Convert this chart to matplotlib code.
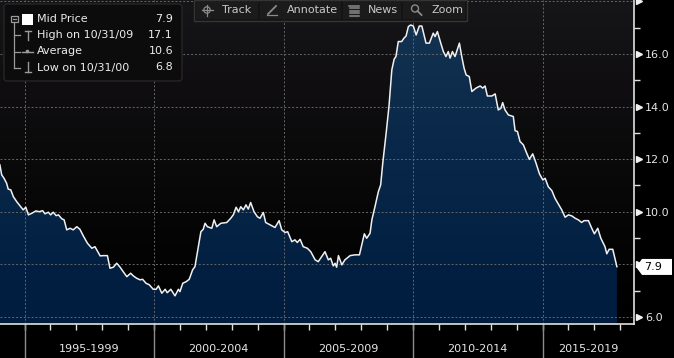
import numpy as np
import matplotlib
matplotlib.use("Agg")
import matplotlib.pyplot as plt
from matplotlib import transforms
from matplotlib.patches import Rectangle, Polygon, Circle, FancyBboxPatch
from matplotlib.colors import LinearSegmentedColormap

# ---------------- data ----------------
years = [
    1994.05, 1994.12, 1994.21, 1994.31, 1994.37, 1994.47, 1994.57, 1994.70, 1994.83, 1994.95,
    1995.05, 1995.15, 1995.28, 1995.44, 1995.57, 1995.70, 1995.79, 1995.92, 1996.01, 1996.11,
    1996.22, 1996.31, 1996.44, 1996.53, 1996.63, 1996.76, 1996.88, 1997.02, 1997.14, 1997.27,
    1997.43, 1997.60, 1997.72, 1997.92, 1998.04, 1998.20, 1998.30, 1998.43, 1998.56, 1998.69,
    1998.81, 1998.95, 1999.10, 1999.20, 1999.33, 1999.46, 1999.56, 1999.69, 1999.82, 1999.97,
    2000.08, 2000.17, 2000.30, 2000.43, 2000.51, 2000.65, 2000.81, 2000.94, 2001.00, 2001.11,
    2001.24, 2001.36, 2001.49, 2001.58, 2001.71, 2001.81, 2001.90, 2001.97, 2002.06, 2002.23,
    2002.32, 2002.42, 2002.58, 2002.81, 2002.96, 2003.06, 2003.17, 2003.26, 2003.35, 2003.45,
    2003.55, 2003.64, 2003.73, 2003.86, 2003.99, 2004.09, 2004.22, 2004.31, 2004.48, 2004.67,
    2004.83, 2004.93, 2005.06, 2005.16, 2005.32, 2005.44, 2005.53, 2005.64, 2005.76, 2005.92,
    2006.05, 2006.22, 2006.34, 2006.47, 2006.60, 2006.73, 2006.82, 2006.92, 2006.99, 2007.05,
    2007.12, 2007.25, 2007.37, 2007.57, 2007.76, 2007.93, 2008.02, 2008.12, 2008.21, 2008.34,
    2008.41, 2008.53, 2008.66, 2008.75, 2008.83, 2008.96, 2009.07, 2009.18, 2009.27, 2009.34,
    2009.43, 2009.56, 2009.65, 2009.73, 2009.82, 2009.91, 2010.01, 2010.12, 2010.24, 2010.34,
    2010.50, 2010.63, 2010.78, 2010.85, 2010.94, 2011.07, 2011.17, 2011.27, 2011.36, 2011.43,
    2011.52, 2011.62, 2011.79, 2011.88, 2011.97, 2012.05, 2012.17, 2012.27, 2012.43, 2012.59,
    2012.69, 2012.78, 2012.87, 2013.04, 2013.17, 2013.29, 2013.39, 2013.46, 2013.55, 2013.68,
    2013.87, 2013.94, 2014.03, 2014.13, 2014.26, 2014.39, 2014.49, 2014.62, 2014.75, 2014.88,
    2015.01, 2015.10, 2015.22, 2015.36, 2015.48, 2015.65, 2015.74, 2015.87, 2016.00, 2016.13,
    2016.26, 2016.38, 2016.51, 2016.60, 2016.77, 2016.90, 2017.00, 2017.13, 2017.25, 2017.41,
    2017.48, 2017.57, 2017.71, 2017.87,
]
mid_price = [
    11.78, 11.40, 11.27, 11.08, 10.86, 10.83, 10.57, 10.38, 10.22, 10.07,
    10.17, 9.88, 9.94, 10.03, 10.00, 10.04, 9.92, 9.98, 9.88, 9.98,
    9.85, 9.88, 9.73, 9.69, 9.31, 9.37, 9.31, 9.43, 9.33, 9.08,
    8.80, 8.61, 8.67, 8.32, 8.33, 8.33, 7.85, 7.89, 8.04, 7.89,
    7.72, 7.53, 7.66, 7.56, 7.47, 7.41, 7.43, 7.28, 7.22, 7.05,
    7.05, 7.18, 6.90, 7.05, 6.92, 7.05, 6.80, 7.05, 6.96, 7.28,
    7.34, 7.43, 7.79, 7.91, 8.67, 9.24, 9.33, 9.56, 9.43, 9.37,
    9.69, 9.43, 9.56, 9.59, 9.75, 9.88, 10.17, 10.00, 10.19, 10.07,
    10.26, 10.10, 10.35, 10.00, 9.81, 9.75, 9.97, 9.59, 9.50, 9.40,
    9.66, 9.31, 9.21, 9.24, 8.86, 8.93, 8.83, 8.95, 8.67, 8.61,
    8.48, 8.17, 8.10, 8.29, 8.48, 8.17, 8.23, 7.94, 8.04, 7.89,
    8.33, 7.98, 8.17, 8.33, 8.36, 8.36, 8.74, 9.16, 8.99, 9.18,
    9.69, 10.19, 10.76, 11.02, 11.84, 12.98, 14.00, 15.39, 15.80, 15.90,
    16.47, 16.47, 16.60, 16.68, 17.04, 17.10, 17.06, 16.72, 17.06, 17.06,
    16.41, 16.41, 16.79, 16.66, 16.85, 16.41, 16.09, 15.90, 16.09, 15.84,
    16.09, 15.90, 16.41, 15.90, 15.46, 15.20, 15.14, 14.57, 14.70, 14.78,
    14.70, 14.78, 14.40, 14.40, 14.48, 13.87, 13.93, 14.15, 13.87, 13.68,
    13.62, 13.08, 13.05, 12.67, 12.54, 12.22, 11.99, 12.20, 11.84, 11.44,
    11.21, 11.27, 10.95, 10.80, 10.51, 10.22, 10.07, 9.79, 9.88, 9.84,
    9.75, 9.69, 9.59, 9.66, 9.66, 9.37, 9.16, 9.37, 8.99, 8.67,
    8.40, 8.57, 8.57, 7.91,
]
period_labels = ["1995-1999", "2000-2004", "2005-2009", "2010-2014", "2015-2019"]
period_starts = [1995, 2000, 2005, 2010, 2015]
legend_names = ["Mid Price", "High on 10/31/09", "Average", "Low on 10/31/00"]
legend_values = ["7.9", "17.1", "10.6", "6.8"]
last_value = 7.9
toolbar_items = ["Track", "Annotate", "News", "Zoom"]

# ---------------- figure ----------------
W, H = 674, 358
fig = plt.figure(figsize=(W / 100, H / 100), dpi=100)
fig.patch.set_facecolor("black")
PX = transforms.Affine2D().scale(1 / 100, -1 / 100).translate(0, H / 100) + fig.dpi_scale_trans

ax_right_px, ax_bottom_px = 634, 324
ax = fig.add_axes([0, 1 - ax_bottom_px / H, ax_right_px / W, ax_bottom_px / H])
x0, x1 = 1994.054, 2018.53
y0, y1 = 5.73, 18.05
ax.set_xlim(x0, x1)
ax.set_ylim(y0, y1)
ax.set_facecolor("black")

# background gradient
bg_cmap = LinearSegmentedColormap.from_list(
    "bg", [(0.0, "#000000"), (0.25, "#040404"), (0.5, "#0a0a0a"), (0.75, "#100e11"), (1.0, "#161618")])
grad = np.linspace(0, 1, 256).reshape(-1, 1)
ax.imshow(grad, extent=[x0, x1, y0, y1], origin="lower", aspect="auto", cmap=bg_cmap, zorder=0)

# area fill gradient clipped to curve
fill_cmap = LinearSegmentedColormap.from_list(
    "fill", [(0.0, "#001c3e"), (0.4, "#062547"), (0.7, "#0d2b4b"), (1.0, "#163553")])
poly = ax.fill_between(years, mid_price, y0, facecolor="none", edgecolor="none")
im = ax.imshow(grad, extent=[x0, x1, y0, y1], origin="lower", aspect="auto", cmap=fill_cmap, zorder=1)
im.set_clip_path(poly.get_paths()[0], transform=ax.transData)

ax.plot(years, mid_price, color="#f0f0f0", lw=1.1, zorder=4)

# grid
for gy in range(6, 19, 2):
    ax.axhline(gy, color="#666666", lw=0.7, ls=(0, (2, 2)), zorder=3)
for gx in period_starts:
    ax.axvline(gx, color="#666666", lw=0.7, ls=(0, (2, 2)), zorder=3)

# spines
for s in ["top", "left"]:
    ax.spines[s].set_visible(False)
for s in ["bottom", "right"]:
    ax.spines[s].set_color("#e0e0e0")
    ax.spines[s].set_linewidth(1.2)
    ax.spines[s].set_zorder(6)

# y axis on right
ax.yaxis.set_ticks_position("right")
ax.set_yticks(list(range(6, 19, 2)))
ax.set_yticklabels(["6.0", "", "10.0", "12.0", "14.0", "16.0", ""])
ax.set_yticks(list(range(7, 19, 2)), minor=True)
ax.tick_params(axis="y", which="major", length=0, pad=8, labelcolor="#e6e6e6", labelsize=8)
ax.tick_params(axis="y", which="minor", length=4, width=1, color="#e0e0e0", direction="out")
tr_y = transforms.blended_transform_factory(ax.transAxes, ax.transData)
for gy in range(6, 19, 2):
    ax.plot([1.0 + 5 / ax_right_px], [gy], marker=">", ms=4.5, color="#f0f0f0",
            transform=tr_y, clip_on=False, zorder=7)

# x axis
ax.set_xticks(list(range(1995, 2019)))
ax.set_xticklabels([])
ax.tick_params(axis="x", which="major", length=4, width=1, color="#e0e0e0", direction="out")
tr_x = transforms.blended_transform_factory(ax.transData, ax.transAxes)
for gx in period_starts:
    ax.plot([gx, gx], [0, -(H - ax_bottom_px) / ax_bottom_px], color="#8c8c8c", lw=1,
            transform=tr_x, clip_on=False, zorder=2)
bounds = period_starts + [x1]
for i, lab in enumerate(period_labels):
    cx = (bounds[i] + bounds[i + 1]) / 2
    ax.text(cx, -(349 - ax_bottom_px) / ax_bottom_px, lab, transform=tr_x, ha="center", va="center",
            color="#e6e6e6", fontsize=8)

# last value marker
disp = ax.transData.transform((x1, last_value))
yc = H - disp[1]
tag = Polygon([(636, yc), (642, yc - 8), (672, yc - 8), (672, yc + 8), (642, yc + 8)],
              closed=True, facecolor="white", edgecolor="none", transform=PX, zorder=10)
fig.add_artist(tag)
fig.text(644, yc, f"{last_value:.1f}", transform=PX, color="black", fontsize=8, va="center",
         ha="left", zorder=11)

# ---------------- legend box ----------------
lg = FancyBboxPatch((4, 4), 178, 77, boxstyle="round,pad=0,rounding_size=3",
                    facecolor="#0c0c0c", edgecolor="#262626", lw=1, transform=PX)
fig.add_artist(lg)
rows_y = [19.3, 35.3, 51.5, 67.5]
icon_c = "#9a9a9a"
# tree
fig.add_artist(Rectangle((11, 15.5), 6.5, 6.5, facecolor="none", edgecolor=icon_c, lw=0.9, transform=PX))
fig.add_artist(plt.Line2D([12.5, 16], [18.75, 18.75], color=icon_c, lw=0.9, transform=PX))
fig.add_artist(plt.Line2D([14.2, 14.2], [22, 67.5], color=icon_c, lw=0.9, transform=PX))
for ry in rows_y[1:]:
    fig.add_artist(plt.Line2D([14.2, 20], [ry, ry], color=icon_c, lw=0.9, transform=PX))
fig.add_artist(Rectangle((21.7, 13.7), 11, 11, facecolor="white", edgecolor="none", transform=PX))
# high icon
fig.add_artist(plt.Line2D([24.5, 30.5], [30.5, 30.5], color=icon_c, lw=1, transform=PX))
fig.add_artist(plt.Line2D([27.5, 27.5], [30.5, 40], color=icon_c, lw=1, transform=PX))
# average icon
fig.add_artist(plt.Line2D([22, 33], [51.5, 51.5], color=icon_c, lw=1, transform=PX))
fig.add_artist(Circle((27.5, 51.5), 1.8, facecolor=icon_c, edgecolor="none", transform=PX))
# low icon
fig.add_artist(plt.Line2D([27.5, 27.5], [62, 71.5], color=icon_c, lw=1, transform=PX))
fig.add_artist(plt.Line2D([24.5, 30.5], [71.5, 71.5], color=icon_c, lw=1, transform=PX))
for name, val, ry in zip(legend_names, legend_values, rows_y):
    fig.text(37, ry, name, transform=PX, color="#ececec", fontsize=8, va="center", ha="left")
    fig.text(173, ry, val, transform=PX, color="#ececec", fontsize=8, va="center", ha="right")

# ---------------- toolbar ----------------
fig.add_artist(Rectangle((194, 0), 273, 20.5, facecolor="#141414", edgecolor="#3a3a3a", lw=1,
                         alpha=0.85, transform=PX))
btns = [(196, 258), (260, 341), (343, 401), (403, 465)]
for (bx0, bx1) in btns:
    fig.add_artist(Rectangle((bx0, 1.5), bx1 - bx0, 17.5, facecolor="#1d1d1d", edgecolor="none",
                             alpha=0.8, transform=PX))
text_x = [222, 287, 368, 431]
for t, tx in zip(toolbar_items, text_x):
    fig.text(tx, 10, t, transform=PX, color="#c8c8c8", fontsize=8, va="center", ha="left")
# crosshair icon
fig.add_artist(Circle((207, 10), 3.2, facecolor="none", edgecolor="#8a8a8a", lw=0.9, transform=PX))
fig.add_artist(plt.Line2D([201.5, 212.5], [10, 10], color="#8a8a8a", lw=0.9, transform=PX))
fig.add_artist(plt.Line2D([207, 207], [4.5, 15.5], color="#8a8a8a", lw=0.9, transform=PX))
# pencil icon
fig.add_artist(plt.Line2D([268, 276], [14, 6], color="#8a8a8a", lw=1.3, transform=PX))
fig.add_artist(plt.Line2D([267, 277], [15, 15], color="#8a8a8a", lw=0.9, transform=PX))
# news icon
for k, ly in enumerate([5.5, 8, 10.5, 13, 15.5]):
    fig.add_artist(plt.Line2D([349 if k == 0 else 350, 359], [ly, ly], color="#8a8a8a", lw=1.1, transform=PX))
# magnifier
fig.add_artist(Circle((415, 8.5), 3.5, facecolor="none", edgecolor="#8a8a8a", lw=1, transform=PX))
fig.add_artist(plt.Line2D([417.5, 421.5], [11, 15], color="#8a8a8a", lw=1.3, transform=PX))

fig.savefig("out.png", dpi=100, facecolor="black")
